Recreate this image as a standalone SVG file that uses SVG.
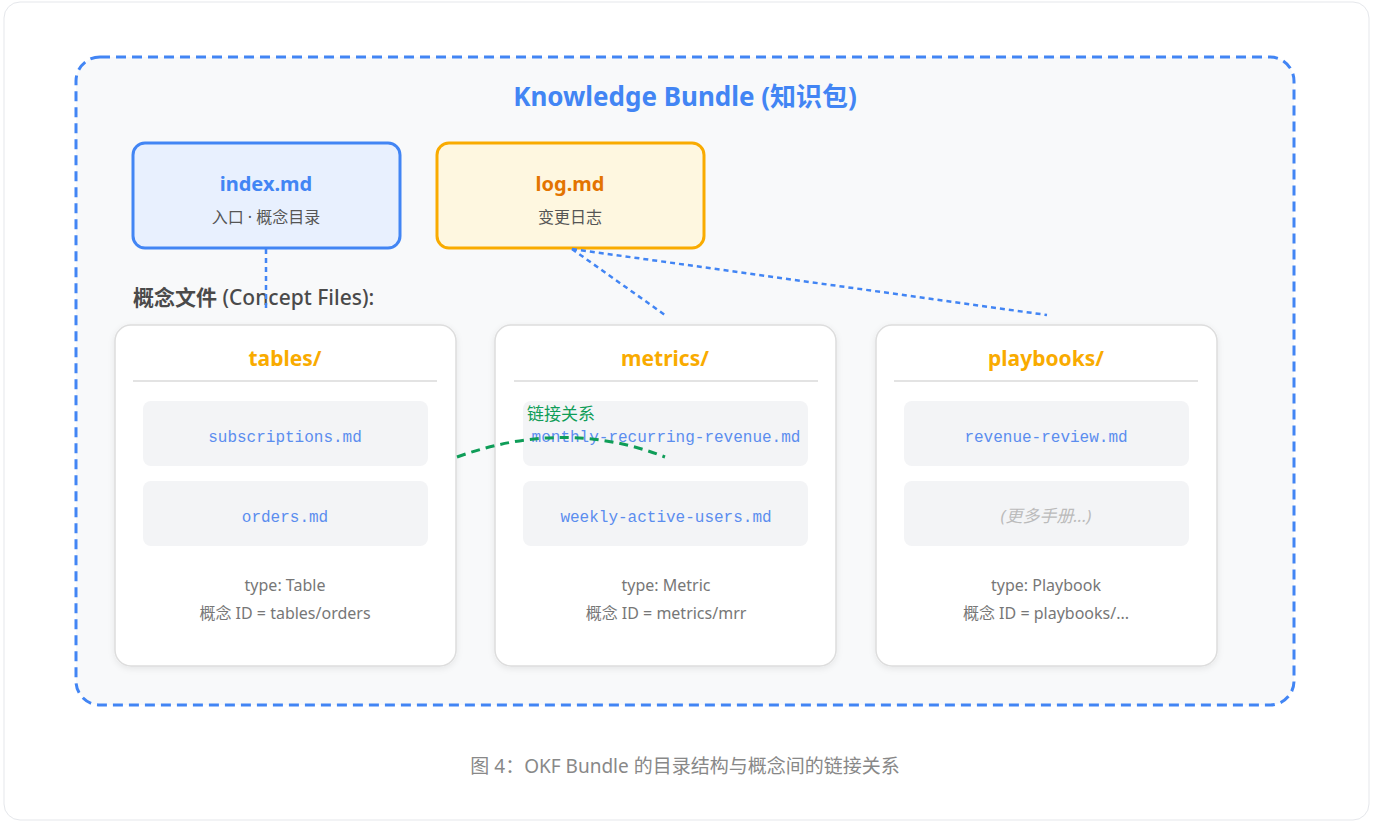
<svg xmlns="http://www.w3.org/2000/svg" width="1373" height="826" viewBox="0 0 1373 826">
<defs>
<style>
text{font-family:"Noto Sans","Noto Sans CJK SC",sans-serif}
.cjk{font-family:"Noto Sans CJK SC","Noto Sans",sans-serif}
.mono{font-family:"Liberation Mono","DejaVu Sans Mono","Noto Sans CJK SC",monospace;font-size:16px;fill:#5b8def}
.card{fill:#ffffff;stroke:#dddddd;stroke-width:1.5}
.item{fill:#f3f4f6}
.div{stroke:#e3e3e3;stroke-width:2}
.ctitle{font-size:21px;font-weight:700;fill:#f9ab00}
.foot{font-size:16px;fill:#777777}
.conn{fill:none;stroke:#4285f4;stroke-width:2.5;stroke-dasharray:5 4}
</style>
<filter id="sh" x="-10%" y="-10%" width="120%" height="120%">
<feDropShadow dx="0" dy="2" stdDeviation="3" flood-color="#000" flood-opacity="0.08"/>
</filter>
</defs>
<rect x="4" y="2" width="1365" height="818" rx="16" fill="#ffffff" stroke="#e5e7eb" stroke-width="1"/>
<g id="bundle">
<rect x="76" y="57" width="1218" height="648" rx="24" fill="#f8f9fa" stroke="#4285f4" stroke-width="3" stroke-dasharray="10 6"/>
<text x="685" y="106" text-anchor="middle" font-size="26" font-weight="700" fill="#4285f4">Knowledge Bundle (知识包)</text>
</g>
<g id="index">
<rect x="133" y="143" width="267" height="105" rx="12" fill="#e8f0fe" stroke="#4285f4" stroke-width="3"/>
<text x="266" y="191" text-anchor="middle" font-size="20" font-weight="700" fill="#4285f4">index.md</text>
<text x="266" y="223" text-anchor="middle" font-size="16" fill="#555555">入口 · 概念目录</text>
</g>
<g id="log">
<rect x="437" y="143" width="267" height="105" rx="12" fill="#fef7e0" stroke="#f9ab00" stroke-width="3"/>
<text x="570" y="191" text-anchor="middle" font-size="20" font-weight="700" fill="#e37400">log.md</text>
<text x="570" y="223" text-anchor="middle" font-size="16" fill="#555555">变更日志</text>
</g>
<text x="133" y="305" font-size="21" fill="#4a4a4a"><tspan font-weight="700">概念文件</tspan><tspan font-weight="500"> (Concept Files):</tspan></text>
<g id="tables">
<rect class="card" x="115" y="325" width="341" height="341" rx="16" filter="url(#sh)"/>
<text class="ctitle" x="285" y="366" text-anchor="middle">tables/</text>
<line class="div" x1="133" y1="381" x2="437" y2="381"/>
<rect class="item" x="143" y="401" width="285" height="65" rx="8"/>
<text class="mono" x="285" y="442" text-anchor="middle">subscriptions.md</text>
<rect class="item" x="143" y="481" width="285" height="65" rx="8"/>
<text class="mono" x="285" y="522" text-anchor="middle">orders.md</text>
<text class="foot" x="285" y="591" text-anchor="middle">type: Table</text>
<text class="foot" x="285" y="619" text-anchor="middle">概念 ID = tables/orders</text>
</g>
<g id="metrics">
<rect class="card" x="495" y="325" width="341" height="341" rx="16" filter="url(#sh)"/>
<text class="ctitle" x="665" y="366" text-anchor="middle">metrics/</text>
<line class="div" x1="514" y1="381" x2="818" y2="381"/>
<rect class="item" x="523" y="401" width="285" height="65" rx="8"/>
<text class="mono" x="666" y="442" text-anchor="middle">monthly-recurring-revenue.md</text>
<rect class="item" x="523" y="481" width="285" height="65" rx="8"/>
<text class="mono" x="666" y="522" text-anchor="middle">weekly-active-users.md</text>
<text class="foot" x="666" y="591" text-anchor="middle">type: Metric</text>
<text class="foot" x="666" y="619" text-anchor="middle">概念 ID = metrics/mrr</text>
</g>
<g id="playbooks">
<rect class="card" x="876" y="325" width="341" height="341" rx="16" filter="url(#sh)"/>
<text class="ctitle" x="1046" y="366" text-anchor="middle">playbooks/</text>
<line class="div" x1="894" y1="381" x2="1198" y2="381"/>
<rect class="item" x="904" y="401" width="285" height="65" rx="8"/>
<text class="mono" x="1046" y="442" text-anchor="middle">revenue-review.md</text>
<rect class="item" x="904" y="481" width="285" height="65" rx="8"/>
<text x="1046" y="522" text-anchor="middle" font-size="17" font-style="italic" fill="#bbbbbb">(更多手册...)</text>
<text class="foot" x="1046" y="591" text-anchor="middle">type: Playbook</text>
<text class="foot" x="1046" y="619" text-anchor="middle">概念 ID = playbooks/...</text>
</g>
<g id="connectors">
<line class="conn" x1="266" y1="249" x2="266" y2="311"/>
<line class="conn" x1="572" y1="249" x2="665" y2="315"/>
<line class="conn" x1="572" y1="249" x2="1047" y2="315"/>
<path d="M457,457 Q565,418 665,457" fill="none" stroke="#0f9d58" stroke-width="3" stroke-dasharray="9 6"/>
<text x="527" y="420" font-size="17" fill="#0f9d58" class="cjk">链接关系</text>
</g>
<text x="685" y="773" text-anchor="middle" font-size="19" fill="#888888">图 4：OKF Bundle 的目录结构与概念间的链接关系</text>
</svg>
